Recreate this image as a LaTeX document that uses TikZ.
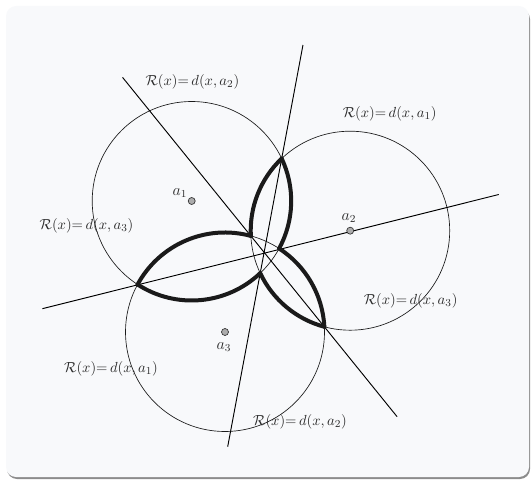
\documentclass[tikz,border=0pt]{standalone}
\usepackage{amsmath,amssymb}
\usepackage{tikz}
\usetikzlibrary{positioning}
\definecolor{cardFill}{HTML}{F8F9FB}
\definecolor{cardShadow}{HTML}{8C8C8C}
\definecolor{inkDark}{HTML}{1A1A1A}
\definecolor{labelGray}{HTML}{2B2B2B}

\newcommand{\rlabel}[1]{$\mathcal{R}(x){=}\,d(x,a_{#1})$}

\begin{document}
\begin{tikzpicture}[
  x=0.75pt,y=-0.75pt,
  circ/.style={draw=inkDark,line width=0.5pt},
  petal/.style={draw=inkDark,line width=3pt,line cap=round},
  axis/.style={draw=black,line width=0.7pt},
  lbl/.style={text=labelGray,font=\fontsize{11}{13}\selectfont,inner sep=1pt},
  ptlbl/.style={text=labelGray,font=\large,inner sep=1pt},
  ptdot/.style={draw=black!80,fill=gray!65,line width=0.5pt}
]
  \useasboundingbox (0,0) rectangle (532,481);
  % card
  \fill[cardShadow,rounded corners=7.5pt] (7,9) rectangle (530,479);
  \fill[cardFill,rounded corners=7.5pt] (6,6) rectangle (529,477);

  % centres
  \coordinate (a1) at (191.7,201);
  \coordinate (a2) at (350.2,230.7);
  \coordinate (a3) at (225,332);

  % outer and inner crossing points
  \coordinate (o12) at (281.69,158.55);
  \coordinate (i12) at (260.21,273.15);
  \coordinate (o13) at (137.58,284.49);
  \coordinate (i13) at (279.12,248.51);
  \coordinate (o23) at (324.36,326.79);
  \coordinate (i23) at (250.84,235.91);

  % ends of the three lines
  \coordinate (l12s) at (302.97,45);
  \coordinate (l12e) at (227.7,446.7);
  \coordinate (l13s) at (42.4,308.68);
  \coordinate (l13e) at (498.8,194.5);
  \coordinate (l23s) at (122.5,77.3);
  \coordinate (l23e) at (397.1,416.7);

  \draw[circ] (a1) circle[radius=99.5];
  \draw[circ] (a2) circle[radius=99.5];
  \draw[circ] (a3) circle[radius=99.5];

  \draw[axis] (l12s) -- (l12e);
  \draw[axis] (l13s) -- (l13e);
  \draw[axis] (l23s) -- (l23e);

  % petals
  \draw[petal] (o12) arc[start angle=-133.52,end angle=-183.0,radius=99.5];
  \draw[petal] (o12) arc[start angle=-25.25,end angle=28.52,radius=99.5];
  \draw[petal] (o13) arc[start angle=-151.48,end angle=-74.95,radius=99.5];
  \draw[petal] (o13) arc[start angle=122.95,end angle=46.48,radius=99.5];
  \draw[petal] (o23) arc[start angle=-3.0,end angle=-57.05,radius=99.5];
  \draw[petal] (o23) arc[start angle=105.05,end angle=154.75,radius=99.5];

  \filldraw[ptdot] (a1) circle[radius=3.5];
  \filldraw[ptdot] (a2) circle[radius=3.5];
  \filldraw[ptdot] (a3) circle[radius=3.5];

  \node[ptlbl] (na1) at (180,193)   {$a_1$};
  \node[ptlbl] (na2) at (349,218.3) {$a_2$};
  \node[ptlbl] (na3) at (224,347.3) {$a_3$};

  \node[lbl] (lblTop)      at (192.4,82) {\rlabel{2}};
  \node[lbl] (lblTopRight) at (389.7,114) {\rlabel{1}};
  \node[lbl] (lblLeft)     at (86.5,226) {\rlabel{3}};
  \node[lbl] (lblRight)    at (410.6,301) {\rlabel{3}};
  \node[lbl] (lblBotLeft)  at (111,369) {\rlabel{1}};
  \node[lbl] (lblBot)      at (300,422) {\rlabel{2}};
\end{tikzpicture}
\end{document}
